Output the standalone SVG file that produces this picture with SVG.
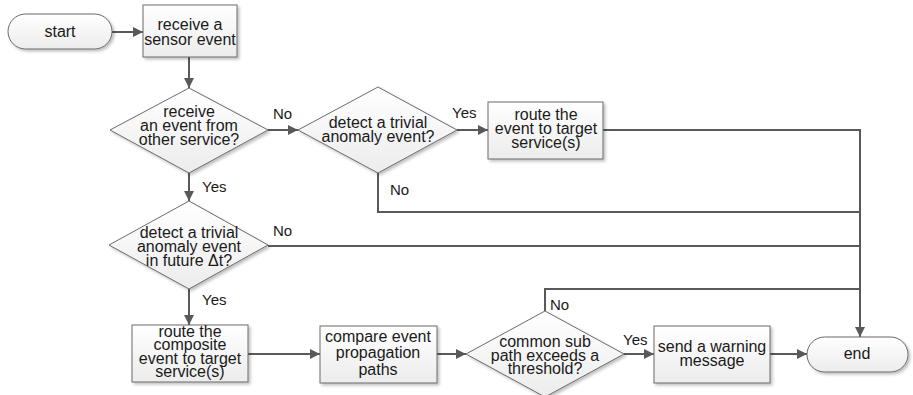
<svg xmlns="http://www.w3.org/2000/svg" width="913" height="395" viewBox="0 0 913 395">
  <defs>
    <linearGradient id="fill" x1="0" y1="0" x2="0" y2="1">
      <stop offset="0" stop-color="#ffffff"/>
      <stop offset="1" stop-color="#ececec"/>
    </linearGradient>
    <filter id="shadow" x="-10%" y="-10%" width="130%" height="140%">
      <feGaussianBlur in="SourceAlpha" stdDeviation="1.5"/>
      <feOffset dx="2" dy="2" result="b"/>
      <feComponentTransfer><feFuncA type="linear" slope="0.25"/></feComponentTransfer>
      <feMerge><feMergeNode/><feMergeNode in="SourceGraphic"/></feMerge>
    </filter>
    <marker id="arrow" viewBox="0 0 10 10" refX="10" refY="5" markerWidth="10" markerHeight="10" markerUnits="userSpaceOnUse" orient="auto">
      <path d="M0,0 L10,5 L0,10 z" fill="#595959"/>
    </marker>
  </defs>
  <style>
    .shape { fill: url(#fill); stroke: #6b6b6b; stroke-width: 1; filter: url(#shadow); }
    .edge { fill: none; stroke: #595959; stroke-width: 2; }
    text { font-family: "Liberation Sans", Arial, sans-serif; font-size: 16px; fill: #1a1a1a; text-anchor: middle; }
    .lbl { text-anchor: start; font-size: 15px; }
  </style>

  <rect width="913" height="395" fill="#ffffff"/>

  <g id="connectors">
    <path class="edge" d="M112,32 H143" marker-end="url(#arrow)"/>
    <path class="edge" d="M189,57 V88" marker-end="url(#arrow)"/>
    <path class="edge" d="M268,130 H298" marker-end="url(#arrow)"/>
    <path class="edge" d="M189,173 V201" marker-end="url(#arrow)"/>
    <path class="edge" d="M457,130 H488" marker-end="url(#arrow)"/>
    <path class="edge" d="M603,130 H860 V337" marker-end="url(#arrow)"/>
    <path class="edge" d="M378,173 V212 H860"/>
    <path class="edge" d="M268,246 H860"/>
    <path class="edge" d="M189,289 V325" marker-end="url(#arrow)"/>
    <path class="edge" d="M248,354 H320" marker-end="url(#arrow)"/>
    <path class="edge" d="M437,354 H466" marker-end="url(#arrow)"/>
    <path class="edge" d="M545,311 V289 H860"/>
    <path class="edge" d="M624,354 H654" marker-end="url(#arrow)"/>
    <path class="edge" d="M770,354 H807" marker-end="url(#arrow)"/>
    <text class="lbl" x="273" y="119">No</text>
    <text class="lbl" x="452" y="118">Yes</text>
    <text class="lbl" x="390" y="195">No</text>
    <text class="lbl" x="202" y="192">Yes</text>
    <text class="lbl" x="273" y="236">No</text>
    <text class="lbl" x="202" y="305">Yes</text>
    <text class="lbl" x="550" y="310">No</text>
    <text class="lbl" x="623" y="345">Yes</text>
  </g>

  <g id="start">
    <rect class="shape" x="8" y="14" width="104" height="35" rx="17.5"/>
    <text x="60" y="37">start</text>
  </g>

  <g id="receive-sensor-event">
    <rect class="shape" x="143" y="5" width="94" height="52"/>
    <text x="190" y="30">receive a</text>
    <text x="190" y="45">sensor event</text>
  </g>

  <g id="receive-from-other">
    <polygon class="shape" points="189,88 268,130 189,173 110,130"/>
    <text x="189" y="117">receive</text>
    <text x="189" y="131">an event from</text>
    <text x="189" y="145">other service?</text>
  </g>

  <g id="detect-trivial">
    <polygon class="shape" points="378,87 457,130 378,173 298,130"/>
    <text x="378" y="128">detect a trivial</text>
    <text x="378" y="142">anomaly event?</text>
  </g>

  <g id="route-event">
    <rect class="shape" x="488" y="102" width="115" height="57"/>
    <text x="546" y="120">route the</text>
    <text x="546" y="134">event to target</text>
    <text x="546" y="148">service(s)</text>
  </g>

  <g id="detect-future">
    <polygon class="shape" points="189,201 268,245 189,289 109,245"/>
    <text x="189" y="238">detect a trivial</text>
    <text x="189" y="252">anomaly event</text>
    <text x="189" y="266">in future Δt?</text>
  </g>

  <g id="route-composite">
    <rect class="shape" x="132" y="325" width="116" height="57"/>
    <text x="190" y="337">route the</text>
    <text x="190" y="350">composite</text>
    <text x="190" y="364">event to target</text>
    <text x="190" y="377">service(s)</text>
  </g>

  <g id="compare-paths">
    <rect class="shape" x="320" y="326" width="117" height="57"/>
    <text x="378" y="342">compare event</text>
    <text x="378" y="358">propagation</text>
    <text x="378" y="375">paths</text>
  </g>

  <g id="common-subpath">
    <polygon class="shape" points="545,311 624,354 545,397 466,354"/>
    <text x="545" y="347">common sub</text>
    <text x="545" y="361">path exceeds a</text>
    <text x="545" y="374">threshold?</text>
  </g>

  <g id="send-warning">
    <rect class="shape" x="654" y="326" width="116" height="57"/>
    <text x="712" y="352">send a warning</text>
    <text x="712" y="366">message</text>
  </g>

  <g id="end">
    <rect class="shape" x="807" y="337" width="101" height="35" rx="17.5"/>
    <text x="857" y="359">end</text>
  </g>
</svg>
